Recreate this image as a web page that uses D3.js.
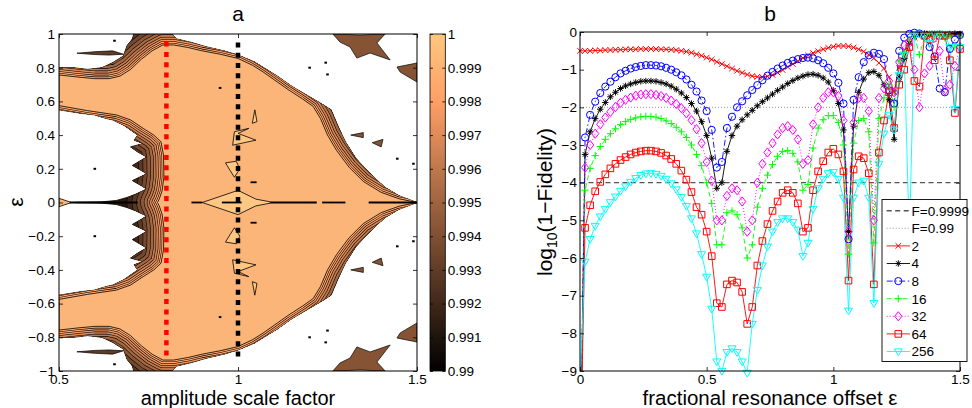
<!DOCTYPE html>
<html>
<head>
<meta charset="utf-8">
<script src="https://cdn.jsdelivr.net/npm/d3@7/dist/d3.min.js"></script>
<style>
  body { margin: 0; background: #fff; }
  svg { display: block; font-family: "Liberation Sans", Arial, Helvetica, sans-serif; }
</style>
</head>
<body>
<svg id="chart" width="972" height="408"></svg>
<script>
// ---------- panel a : fidelity map over (amplitude scale factor, eps) ----------
const ampTicks = [0.5, 1, 1.5];
const epsTicks = [-1, -0.8, -0.6, -0.4, -0.2, 0, 0.2, 0.4, 0.6, 0.8, 1];
const fidelityTicks = [0.99, 0.991, 0.992, 0.993, 0.994, 0.995, 0.996, 0.997, 0.998, 0.999, 1];

// outlines for eps >= 0 as [amplitude, eps]; the map is mirror symmetric in eps
const coreTop = [
  [0.5, 0.757], [0.55, 0.745], [0.6, 0.735], [0.64, 0.735], [0.67, 0.75], [0.7, 0.79],
  [0.73, 0.85], [0.76, 0.9], [0.79, 0.935], [0.82, 0.935], [0.86, 0.92], [0.9, 0.9],
  [0.95, 0.88], [1.0, 0.855], [1.04, 0.815], [1.07, 0.775], [1.1, 0.73], [1.14, 0.67],
  [1.18, 0.615], [1.21, 0.57], [1.23, 0.5], [1.25, 0.4], [1.275, 0.31], [1.31, 0.21],
  [1.35, 0.125], [1.4, 0.06], [1.45, 0.022], [1.5, 0]
];
const coreHole = [
  [0.5, 0.575], [0.58, 0.545], [0.66, 0.52], [0.7, 0.49], [0.735, 0.44], [0.765, 0.4],
  [0.785, 0.36], [0.792, 0.28], [0.793, 0.15], [0.788, 0.07], [0.78, 0.02], [0.775, 0]
];
const fringeTop = [
  [0.5, 0.8], [0.54, 0.8], [0.58, 0.79], [0.62, 0.8], [0.65, 0.83], [0.68, 0.87],
  [0.69, 0.93], [0.705, 0.97], [0.71, 1.01], [0.81, 1.01], [0.83, 0.97], [0.87, 0.95],
  [0.91, 0.925], [0.96, 0.9], [1.0, 0.875], [1.045, 0.835], [1.08, 0.79], [1.11, 0.75],
  [1.15, 0.69], [1.19, 0.64], [1.23, 0.59], [1.26, 0.55], [1.28, 0.45], [1.3, 0.36],
  [1.33, 0.26], [1.37, 0.17], [1.41, 0.09], [1.45, 0.04], [1.5, 0]
];
const fringeHole = [
  [0.5, 0.55], [0.56, 0.53], [0.6, 0.52], [0.63, 0.5], [0.65, 0.49], [0.68, 0.46],
  [0.7, 0.43], [0.72, 0.4], [0.71, 0.37], [0.735, 0.35], [0.7, 0.33], [0.72, 0.3],
  [0.745, 0.27], [0.705, 0.22], [0.73, 0.19], [0.745, 0.17], [0.705, 0.13], [0.73, 0.1],
  [0.745, 0.08], [0.715, 0.05], [0.69, 0.03], [0.66, 0.012], [0.62, 0.004], [0.56, 0.002],
  [0.535, 0]
];
const flakes = [
  [[0.55, 0.886], [0.6, 0.895], [0.65, 0.9], [0.68, 0.88], [0.64, 0.875], [0.6, 0.878]],
  [[1.265, 1.0], [1.341, 0.994], [1.411, 1.0], [1.388, 0.947], [1.425, 0.846], [1.369, 0.887],
   [1.332, 0.857], [1.313, 0.923], [1.285, 0.952]],
  [[1.444, 0.804], [1.5, 0.828], [1.5, 0.715], [1.453, 0.774]],
  [[1.315, 0.4], [1.35, 0.415], [1.35, 0.385]],
  [[1.375, 0.355], [1.405, 0.375], [1.4, 0.33]]
];
const lightPatches = [
  [[0.965, 0.235], [0.995, 0.245], [1.005, 0.2], [0.99, 0.15], [0.978, 0.19]],
  [[0.985, 0.34], [1.05, 0.37], [1.0, 0.41], [1.03, 0.44], [0.99, 0.42]],
  [[1.04, 0.47], [1.047, 0.55], [1.053, 0.48]]
];
const centerPatches = [
  [[0.9, 0], [1.0, 0.072], [1.05, 0.02], [1.09, 0.004], [1.09, -0.004], [1.05, -0.02], [1.0, -0.072]],
  [[0.5, 0.025], [0.535, 0], [0.5, -0.025]]
];
const zeroSegments = [[0.53, 0.72], [0.87, 0.9], [0.955, 1.01], [1.09, 1.22], [1.235, 1.3], [1.365, 1.5]];
const sideDashes = [[1.035, 1.052, 0.12]];
const specks = [[0.6, 0.2], [0.655, 0.96], [1.2, 0.8], [1.245, 0.83], [1.25, 0.76], [0.95, 0.68], [1.445, 0.26], [1.49, 0.23]];
const scanAmplitudes = [0.8, 1.0];
const scanExtents = [[-0.935, 0.955], [-0.93, 0.95]];

// ---------- panel b : log10(1 - fidelity) against resonance offset ----------
const offsetTicks = [0, 0.5, 1, 1.5];
const logTicks = [0, -1, -2, -3, -4, -5, -6, -7, -8, -9];
const offsets = [
  0, 0.02, 0.04, 0.06, 0.08, 0.1, 0.12, 0.14, 0.16, 0.18,
  0.2, 0.22, 0.24, 0.26, 0.28, 0.3, 0.32, 0.34, 0.36, 0.38,
  0.4, 0.42, 0.44, 0.46, 0.48, 0.5, 0.52, 0.54, 0.56, 0.58,
  0.6, 0.62, 0.64, 0.66, 0.68, 0.7, 0.72, 0.74, 0.76, 0.78,
  0.8, 0.82, 0.84, 0.86, 0.88, 0.9, 0.92, 0.94, 0.96, 0.98,
  1.0, 1.02, 1.04, 1.06, 1.08, 1.1, 1.12, 1.14, 1.16, 1.18,
  1.2, 1.22, 1.24, 1.26, 1.28, 1.3, 1.32, 1.34, 1.36, 1.38,
  1.4, 1.42, 1.44, 1.46, 1.48, 1.5
];
const fid2 = [
  -0.5, -0.5, -0.5, -0.49, -0.49, -0.48, -0.48, -0.47, -0.47, -0.46,
  -0.46, -0.46, -0.45, -0.45, -0.45, -0.45, -0.46, -0.46, -0.47, -0.48,
  -0.5, -0.52, -0.55, -0.59, -0.63, -0.68, -0.73, -0.79, -0.85, -0.91,
  -0.97, -1.03, -1.08, -1.13, -1.17, -1.19, -1.2, -1.18, -1.14, -1.08,
  -1.01, -0.93, -0.85, -0.77, -0.69, -0.62, -0.56, -0.51, -0.46, -0.42,
  -0.39, -0.37, -0.37, -0.38, -0.41, -0.46, -0.52, -0.6, -0.7, -0.82,
  -0.97, -1.2, -1.6, -0.95, -0.5, -0.28, -0.15, -0.08, -0.05, -0.04,
  -0.04, -0.05, -0.06, -0.08, -0.07, -0.06
];
const fid4 = [
  -12, -3.25, -2.65, -2.3, -2.05, -1.87, -1.72, -1.6, -1.5, -1.43,
  -1.38, -1.34, -1.31, -1.3, -1.3, -1.31, -1.34, -1.38, -1.44, -1.52,
  -1.62, -1.74, -1.9, -2.1, -2.38, -2.75, -3.35, -4.15, -4.0, -3.17,
  -2.75, -2.5, -2.33, -2.2, -2.08, -1.96, -1.85, -1.75, -1.65, -1.55,
  -1.46, -1.37, -1.29, -1.22, -1.17, -1.13, -1.12, -1.15, -1.22, -1.33,
  -1.55, -1.9, -2.6, -5.3, -2.5, -1.6, -1.25, -1.08, -1.05, -1.15,
  -1.4, -1.8, -2.85, -1.2, -0.7, -0.3, -0.12, -0.05, -0.04, -0.08,
  -0.05, -0.04, -0.1, -0.05, -0.04, -0.05
];
const fid8 = [
  -12, -2.8, -2.2, -1.85, -1.62, -1.45, -1.32, -1.2, -1.1, -1.03,
  -0.97, -0.93, -0.9, -0.88, -0.88, -0.89, -0.91, -0.95, -1.0, -1.07,
  -1.15, -1.26, -1.4, -1.58, -1.82, -2.1, -2.6, -3.6, -3.45, -2.55,
  -2.25, -2.0, -1.84, -1.68, -1.54, -1.41, -1.28, -1.16, -1.06, -0.97,
  -0.89, -0.82, -0.76, -0.72, -0.69, -0.68, -0.7, -0.75, -0.83, -0.95,
  -1.1, -1.35, -1.9, -5.5, -1.8, -1.2, -0.8, -0.62, -0.55, -0.58,
  -0.72, -1.55, -1.9, -0.5, -0.15, -0.05, -0.02, -0.04, -0.1, -0.4,
  -0.65, -1.5, -1.6, -0.45, -0.2, -0.08
];
const fid16 = [
  -12, -4.2, -3.62, -3.28, -3.04, -2.85, -2.7, -2.57, -2.46, -2.38,
  -2.32, -2.28, -2.25, -2.24, -2.24, -2.26, -2.3, -2.36, -2.43, -2.53,
  -2.65, -2.8, -3.0, -3.25, -3.55, -4.0, -4.55, -5.65, -5.65, -4.8,
  -4.75, -4.85, -5.2, -6.0, -5.65, -4.65, -4.15, -3.8, -3.52, -3.3,
  -3.17, -3.15, -3.22, -3.45, -4.2, -4.05, -3.08, -2.55, -2.33, -2.22,
  -2.22, -2.4, -3.0, -5.9, -2.95, -2.35, -2.3, -2.65, -5.6, -2.3,
  -1.75, -1.4, -2.0, -0.75, -0.55, -0.2, -0.1, -0.6, -0.15, -0.05,
  -0.1, -0.05, -0.15, -0.1, -0.4, -0.1
];
const fid32 = [
  -12, -3.6, -3.0, -2.7, -2.45, -2.27, -2.12, -1.99, -1.88, -1.8,
  -1.74, -1.69, -1.66, -1.65, -1.65, -1.67, -1.7, -1.75, -1.82, -1.91,
  -2.02, -2.16, -2.34, -2.58, -2.95, -3.45, -3.95, -5.0, -5.0, -4.35,
  -4.15, -4.2, -4.5, -5.3, -5.0, -4.0, -3.5, -3.2, -2.95, -2.72,
  -2.55, -2.5, -2.6, -2.85, -3.5, -3.4, -2.45, -2.0, -1.75, -1.6,
  -1.6, -1.7, -2.35, -5.3, -2.4, -1.75, -1.75, -2.1, -5.0, -1.75,
  -1.5, -1.3, -1.6, -0.8, -0.35, -0.25, -1.0, -2.0, -1.1, -0.9,
  -0.15, -0.5, -1.55, -1.4, -0.9, -0.4
];
const fid64 = [
  -12, -5.2, -4.6, -4.23, -3.98, -3.78, -3.62, -3.5, -3.4, -3.32,
  -3.25, -3.2, -3.17, -3.15, -3.15, -3.17, -3.21, -3.28, -3.37, -3.5,
  -3.68, -3.92, -4.25, -4.65, -4.85, -5.3, -5.95, -7.2, -7.3, -6.7,
  -6.6, -6.65, -6.9, -7.75, -7.3, -6.2, -5.55, -5.1, -4.75, -4.5,
  -4.27, -4.2, -4.27, -4.55, -5.3, -5.2, -4.2, -3.7, -3.43, -3.2,
  -3.1, -3.25, -3.7, -6.6, -3.65, -3.3, -3.35, -3.75, -6.7, -3.2,
  -2.35, -1.6, -2.55, -1.4, -1.0, -0.4, -1.3, -1.45, -0.1, -0.2,
  -0.75, -0.1, -0.1, -0.75, -2.15, -0.45
];
const fid256 = [
  -9.3, -6.1, -5.5, -5.15, -4.9, -4.7, -4.52, -4.37, -4.22, -4.1,
  -3.98, -3.88, -3.8, -3.76, -3.75, -3.77, -3.82, -3.9, -4.02, -4.18,
  -4.38, -4.62, -4.95, -5.35, -5.9, -6.5, -7.35, -8.75, -9.0, -8.5,
  -8.4, -8.5, -8.75, -9.05, -7.75, -6.85, -6.2, -5.7, -5.3, -5.05,
  -4.95, -4.95, -5.05, -5.25, -5.95, -5.6, -4.7, -4.15, -3.9, -3.75,
  -3.72, -3.9, -4.4, -7.4, -4.4, -4.0, -3.95, -4.4, -7.2, -3.5,
  -2.7, -2.2, -2.6, -1.15, -0.6, -5.5, -0.1, -0.05, -0.1, -0.3,
  -0.05, -0.1, -0.05, -0.4, -2.05, -0.4
];
const segmentCounts = ["2", "4", "8", "16", "32", "64", "256"];
const thresholdLevels = [-4, -2];
const thresholdNames = ["F=0.9999", "F=0.99"];

(function () {
  const svg = d3.select("#chart");
  const defs = svg.append("defs");
  const MINUS = "\u2212";
  const TICK_FONT = 13.5;
  const LABEL_FONT = 20;

  const copper = t => d3.rgb(Math.min(1, 1.25 * t) * 255, 0.7812 * t * 255, 0.4975 * t * 255);
  const CORE_COLOR = "#fbb579";
  const LIGHT_COLOR = "#ffc882";

  function frame(x, y, xTicks, yTicks, fmtX, fmtY, padLeft) {
    const [x0, x1] = x.range();
    const [y0, y1] = y.range();
    const tidy = g => {
      g.select(".domain").remove();
      g.selectAll(".tick line").attr("stroke", "#000").attr("stroke-width", 0.8);
      g.selectAll(".tick text").attr("fill", "#000");
      g.attr("font-size", TICK_FONT).attr("font-family", null);
    };
    svg.append("g").attr("transform", `translate(0,${y0})`)
      .call(d3.axisBottom(x).tickValues(xTicks).tickFormat(fmtX).tickSizeInner(-4).tickSizeOuter(0).tickPadding(3.5))
      .call(tidy);
    svg.append("g").attr("transform", `translate(0,${y1})`)
      .call(d3.axisTop(x).tickValues(xTicks).tickFormat("").tickSizeInner(-4).tickSizeOuter(0))
      .call(tidy);
    svg.append("g").attr("transform", `translate(${x0},0)`)
      .call(d3.axisLeft(y).tickValues(yTicks).tickFormat(fmtY).tickSizeInner(-4).tickSizeOuter(0).tickPadding(padLeft))
      .call(tidy);
    svg.append("g").attr("transform", `translate(${x1},0)`)
      .call(d3.axisRight(y).tickValues(yTicks).tickFormat("").tickSizeInner(-4).tickSizeOuter(0))
      .call(tidy);
    svg.append("rect")
      .attr("x", x0).attr("y", y1).attr("width", x1 - x0).attr("height", y0 - y1)
      .attr("fill", "none").attr("stroke", "#000").attr("stroke-width", 1);
  }

  function clipRect(id, x, y) {
    const [x0, x1] = x.range();
    const [y0, y1] = y.range();
    defs.append("clipPath").attr("id", id).append("rect")
      .attr("x", x0).attr("y", y1).attr("width", x1 - x0).attr("height", y0 - y1);
  }

  // ================= panel a =================
  function drawMap() {
    const x = d3.scaleLinear().domain([0.5, 1.5]).range([59, 417]);
    const y = d3.scaleLinear().domain([-1, 1]).range([371, 34]);
    clipRect("clipA", x, y);

    const mirror = pts => pts.map(([a, e]) => [a, -e]);
    const outline = (top, hole) =>
      top.concat(mirror(top).reverse().slice(1), mirror(hole), hole.slice().reverse().slice(1));
    const line = d3.line().x(d => x(d[0])).y(d => y(d[1]));
    const closed = pts => line(pts) + "Z";

    const fringePath = closed(outline(fringeTop, fringeHole));
    const corePath = closed(outline(coreTop, coreHole));
    defs.append("clipPath").attr("id", "clipFringe").append("path").attr("d", fringePath);

    const g = svg.append("g").attr("clip-path", "url(#clipA)");

    // darkest outer rim of the high-fidelity region
    g.append("path").attr("d", fringePath)
      .attr("fill", copper(0.12)).attr("stroke", "#000").attr("stroke-width", 0.8);

    // graded contour bands between the rim and the plateau
    const bands = g.append("g").attr("clip-path", "url(#clipFringe)");
    [[60, 0.2], [50, 0.28], [41, 0.36], [33, 0.44], [26, 0.52], [20, 0.6],
     [15, 0.67], [10.5, 0.74], [6.5, 0.8], [3, 0.86]].forEach(([w, t]) => {
      bands.append("path").attr("d", corePath).attr("fill", "none")
        .attr("stroke", "#000").attr("stroke-width", w + 1.1).attr("stroke-linejoin", "round");
      bands.append("path").attr("d", corePath).attr("fill", "none")
        .attr("stroke", copper(t)).attr("stroke-width", w).attr("stroke-linejoin", "round");
    });

    g.append("path").attr("d", corePath)
      .attr("fill", CORE_COLOR).attr("stroke", "#000").attr("stroke-width", 0.8);

    const bothHalves = shapes => shapes.concat(shapes.map(mirror));

    g.selectAll(".flake").data(bothHalves(flakes)).enter().append("path")
      .attr("class", "flake")
      .attr("d", closed)
      .attr("fill", (d, i) => (i % flakes.length === 0 ? copper(0.3) : copper(0.42)))
      .attr("stroke", "#000").attr("stroke-width", 0.7);

    g.selectAll(".patch").data(bothHalves(lightPatches).concat(centerPatches)).enter().append("path")
      .attr("class", "patch")
      .attr("d", closed)
      .attr("fill", (d, i, n) => (i === n.length - 1 ? CORE_COLOR : LIGHT_COLOR))
      .attr("stroke", "#000").attr("stroke-width", 0.8);

    const dashes = zeroSegments.map(([a1, a2]) => [a1, a2, 0])
      .concat(sideDashes, sideDashes.map(([a1, a2, e]) => [a1, a2, -e]));
    g.selectAll(".dash").data(dashes).enter().append("line")
      .attr("x1", d => x(d[0])).attr("x2", d => x(d[1]))
      .attr("y1", d => y(d[2])).attr("y2", d => y(d[2]))
      .attr("stroke", "#000").attr("stroke-width", 1.8);

    g.selectAll(".speck").data(specks.concat(mirror(specks))).enter().append("rect")
      .attr("x", d => x(d[0]) - 1.3).attr("y", d => y(d[1]) - 1)
      .attr("width", 2.6).attr("height", 2).attr("fill", "#000");

    // scanned amplitudes (dotted verticals)
    g.selectAll(".scan").data(scanAmplitudes).enter().append("line")
      .attr("x1", d => x(d)).attr("x2", d => x(d))
      .attr("y1", (d, i) => y(scanExtents[i][1])).attr("y2", (d, i) => y(scanExtents[i][0]))
      .attr("stroke", (d, i) => (i === 0 ? "#ff0000" : "#000"))
      .attr("stroke-width", 4.5).attr("stroke-dasharray", "5,5.3");

    const fmtEps = d => (d === 0 ? "0" : String(+d.toFixed(1)).replace("-", MINUS));
    frame(x, y, ampTicks, epsTicks, d => String(d), fmtEps, 4);

    svg.append("text").attr("x", 238).attr("y", 21).attr("text-anchor", "middle")
      .attr("font-size", LABEL_FONT + 1).text("a");
    svg.append("text").attr("x", 238).attr("y", 405).attr("text-anchor", "middle")
      .attr("font-size", LABEL_FONT).text("amplitude scale factor");
    svg.append("text").attr("transform", "translate(23,202) rotate(-90)").attr("text-anchor", "middle")
      .attr("font-size", LABEL_FONT + 1).text("\u03b5");

    // colour bar
    const c = d3.scaleLinear().domain([0.99, 1]).range([371, 34]);
    const grad = defs.append("linearGradient").attr("id", "copperBar")
      .attr("x1", 0).attr("y1", 1).attr("x2", 0).attr("y2", 0);
    d3.range(0, 1.0001, 0.05).forEach(t => {
      grad.append("stop").attr("offset", t).attr("stop-color", copper(t));
    });
    const barX = 430, barW = 15.3;
    svg.append("rect").attr("x", barX).attr("y", c(1)).attr("width", barW).attr("height", c(0.99) - c(1))
      .attr("fill", "url(#copperBar)").attr("stroke", "#000").attr("stroke-width", 0.8);
    const fmtFid = d => (d === 1 ? "1" : d.toFixed(3).replace(/0+$/, ""));
    svg.append("g").attr("transform", `translate(${barX + barW},0)`)
      .call(d3.axisRight(c).tickValues(fidelityTicks).tickFormat(fmtFid).tickSizeInner(-3).tickSizeOuter(0).tickPadding(2.5))
      .call(g2 => {
        g2.select(".domain").remove();
        g2.selectAll(".tick line").attr("stroke", "#000").attr("stroke-width", 0.8);
        g2.selectAll(".tick text").attr("fill", "#000");
        g2.attr("font-size", TICK_FONT).attr("font-family", null);
      });
    svg.append("g").attr("transform", `translate(${barX},0)`)
      .call(d3.axisLeft(c).tickValues(fidelityTicks).tickFormat("").tickSizeInner(-3).tickSizeOuter(0))
      .call(g2 => {
        g2.select(".domain").remove();
        g2.selectAll(".tick line").attr("stroke", "#000").attr("stroke-width", 0.8);
      });
  }

  // ================= panel b =================
  const SERIES_STYLE = [
    { color: "#ff0000", dash: null, marker: "x" },
    { color: "#000000", dash: null, marker: "star" },
    { color: "#0000ff", dash: "6,2.5,1.5,2.5", marker: "circle" },
    { color: "#00ff00", dash: "5,3", marker: "plus" },
    { color: "#ff00ff", dash: "1,2", marker: "diamond" },
    { color: "#ff0000", dash: null, marker: "square" },
    { color: "#00ffff", dash: null, marker: "triangle" }
  ];
  const REF_STYLE = [
    { color: "#555555", dash: "5,3.5", width: 1.4 },
    { color: "#999999", dash: "1,2", width: 1 }
  ];

  function markerPath(kind) {
    switch (kind) {
      case "x": return "M-2.8,-2.8L2.8,2.8M-2.8,2.8L2.8,-2.8";
      case "plus": return "M-3.6,0H3.6M0,-3.6V3.6";
      case "star": return "M-3.2,0H3.2M0,-3.2V3.2M-2.3,-2.3L2.3,2.3M-2.3,2.3L2.3,-2.3";
      case "circle": return "M3.6,0A3.6,3.6 0 1 1 -3.6,0A3.6,3.6 0 1 1 3.6,0Z";
      case "square": return "M-3.3,-3.3H3.3V3.3H-3.3Z";
      case "diamond": return "M0,-4.6L3.6,0L0,4.6L-3.6,0Z";
      default: return "M-4,-2.6H4L0,4.2Z";
    }
  }

  function drawCurves() {
    const x = d3.scaleLinear().domain([0, 1.5]).range([580, 960]);
    const y = d3.scaleLinear().domain([-9, 0]).range([371, 32]);
    clipRect("clipB", x, y);

    const allValues = [fid2, fid4, fid8, fid16, fid32, fid64, fid256];
    const series = segmentCounts.map((name, i) => ({
      name,
      style: SERIES_STYLE[i],
      points: offsets.map((o, j) => ({ o, v: allValues[i][j] }))
    }));

    const plot = svg.append("g");
    const clipped = plot.append("g").attr("clip-path", "url(#clipB)");

    clipped.selectAll(".ref").data(thresholdLevels).enter().append("line")
      .attr("x1", x(0)).attr("x2", x(1.5))
      .attr("y1", d => y(d)).attr("y2", d => y(d))
      .attr("stroke", (d, i) => REF_STYLE[i].color)
      .attr("stroke-width", (d, i) => REF_STYLE[i].width)
      .attr("stroke-dasharray", (d, i) => REF_STYLE[i].dash);

    const line = d3.line().x(d => x(d.o)).y(d => y(d.v));

    series.forEach(s => {
      clipped.append("path").datum(s.points)
        .attr("d", line).attr("fill", "none")
        .attr("stroke", s.style.color).attr("stroke-width", 0.9)
        .attr("stroke-dasharray", s.style.dash);
      plot.append("g").selectAll("path")
        .data(s.points.filter(p => p.v >= -9.06 && p.v <= 0.05))
        .enter().append("path")
        .attr("transform", p => `translate(${x(p.o)},${y(p.v)})`)
        .attr("d", markerPath(s.style.marker))
        .attr("fill", "none").attr("stroke", s.style.color).attr("stroke-width", 1);
    });

    frame(x, y, offsetTicks, logTicks, d => String(d), d => String(d).replace("-", MINUS), 3);

    svg.append("text").attr("x", 770).attr("y", 21).attr("text-anchor", "middle")
      .attr("font-size", LABEL_FONT + 1).text("b");
    svg.append("text").attr("x", 770).attr("y", 405).attr("text-anchor", "middle")
      .attr("font-size", LABEL_FONT + 0.5).text("fractional resonance offset \u03b5");

    const ylab = svg.append("text").attr("transform", "translate(552,202) rotate(-90)")
      .attr("text-anchor", "middle").attr("font-size", LABEL_FONT + 1);
    ylab.append("tspan").text("log");
    ylab.append("tspan").attr("font-size", 14).attr("dy", 5).text("10");
    ylab.append("tspan").attr("dy", -5).text("(1" + MINUS + "Fidelity)");

    // legend
    const lx = 882, ly = 199.5, lw = 85, lh = 162, rowH = 17.6;
    const legend = svg.append("g");
    legend.append("rect").attr("x", lx).attr("y", ly).attr("width", lw).attr("height", lh)
      .attr("fill", "#fff").attr("stroke", "#000").attr("stroke-width", 0.9);
    const rows = thresholdNames.map((name, i) => ({ name, line: REF_STYLE[i], marker: null }))
      .concat(series.map(s => ({
        name: s.name,
        line: { color: s.style.color, dash: s.style.dash, width: 0.9 },
        marker: s.style.marker
      })));
    rows.forEach((r, i) => {
      const ry = ly + 11.2 + i * rowH;
      legend.append("line").attr("x1", lx + 4.7).attr("x2", lx + 28).attr("y1", ry).attr("y2", ry)
        .attr("stroke", r.line.color).attr("stroke-width", r.line.width)
        .attr("stroke-dasharray", r.line.dash);
      if (r.marker) {
        legend.append("path").attr("transform", `translate(${lx + 16.3},${ry})`)
          .attr("d", markerPath(r.marker)).attr("fill", "none")
          .attr("stroke", r.line.color).attr("stroke-width", 1);
      }
      legend.append("text").attr("x", lx + 29.5).attr("y", ry).attr("dy", "0.36em")
        .attr("font-size", 13.5).text(r.name);
    });
  }

  drawMap();
  drawCurves();
})();
</script>
</body>
</html>
